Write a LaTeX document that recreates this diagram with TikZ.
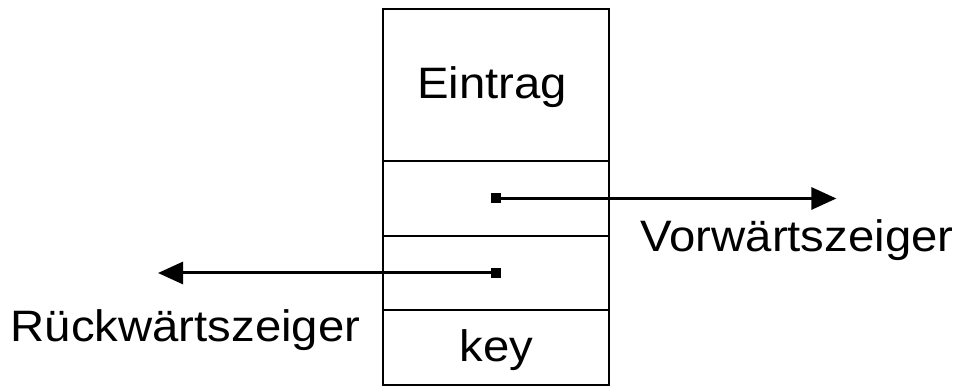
\documentclass[tikz,border=0pt]{standalone}
\usepackage{fontspec}
\setmainfont{Liberation Sans}
\usepackage{graphicx}
\usetikzlibrary{positioning,arrows.meta}
\newcommand{\cellfont}{\fontsize{44}{52}\selectfont}
\newcommand{\stretched}[1]{\scalebox{1.075}[1]{#1}}
\tikzset{
	cell/.style={draw, line width=2pt, minimum width=226pt, inner sep=0pt, outer sep=0pt,
		text height=32pt, text depth=4pt, font=\cellfont},
	ptr/.style={fill, inner sep=0pt, minimum size=10pt},
	link/.style={line width=3pt, -{Triangle[length=25pt,width=22pt]}},
	caption/.style={anchor=base, font=\cellfont},
}
\begin{document}
\begin{tikzpicture}[x=1pt,y=-1pt]
	\useasboundingbox (0,0) rectangle (962,387);

	% the record
	\node[cell, minimum height=152pt] (entry) at (496.2,85) {\stretched{Eintrag}\hspace*{8pt}};
	\node[cell, minimum height=75pt, below=0pt of entry] (fwd) {};
	\node[cell, minimum height=74pt, below=0pt of fwd] (bwd) {};
	\node[cell, minimum height=75pt, below=0pt of bwd] (key) {\stretched{key}};

	% the pointers
	\node[ptr] (fwdptr) at (fwd.center) {};
	\node[ptr] (bwdptr) at (bwd.center) {};
	\coordinate[right=335pt of fwdptr] (fwdend);
	\coordinate[left=333pt of bwdptr] (bwdend);

	\draw[link] (fwdptr) -- (fwdend);
	\draw[link] (bwdptr) -- (bwdend);

	\node[caption] (fwdlabel) at (797,252) {\stretched{Vorwärtszeiger}};
	\node[caption] (bwdlabel) at (185.5,342) {\stretched{Rückwärtszeiger}};
\end{tikzpicture}
\end{document}
